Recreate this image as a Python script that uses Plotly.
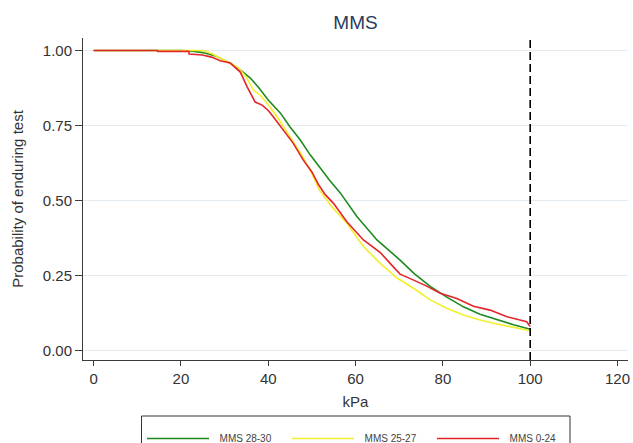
import plotly.graph_objects as go

# ---- data ----
series_names = ["MMS 28-30", "MMS 25-27", "MMS 0-24"]

kpa_green = [0, 20, 23, 25, 27.9, 31.3, 33.6, 35.9, 37.7, 40.0, 42.8, 45.0, 47.3, 49.6, 51.7,
             54.0, 56.5, 60.3, 64.9, 70.2, 73.5, 77.1, 80.8, 84.7, 88.5, 92.4, 96.2, 100]
surv_green = [1.0, 1.0, 0.997, 0.993, 0.982, 0.958, 0.935, 0.908, 0.878, 0.835, 0.791, 0.745, 0.702,
              0.652, 0.612, 0.568, 0.525, 0.446, 0.368, 0.301, 0.255, 0.213, 0.178, 0.145, 0.120,
              0.101, 0.085, 0.070]

kpa_yellow = [0, 25.1, 27.0, 29.0, 31.0, 32.9, 34.8, 36.6, 38.2, 39.7, 42.0, 44.5, 47.3, 49.6,
              51.7, 54.5, 58.0, 61.8, 65.6, 69.5, 73.3, 77.1, 80.9, 84.7, 88.5, 92.4, 96.2, 100]
surv_yellow = [1.0, 1.0, 0.99, 0.975, 0.962, 0.945, 0.915, 0.868, 0.85, 0.825, 0.78, 0.725, 0.66,
               0.601, 0.535, 0.48, 0.424, 0.346, 0.291, 0.241, 0.207, 0.168, 0.140, 0.118, 0.101,
               0.088, 0.077, 0.065]

kpa_red = [0, 14.6, 14.7, 21.8, 21.9, 24.9, 27.0, 29.0, 31.3, 33.6, 35.2, 37.0, 38.6, 40.0, 41.2,
           43.4, 45.7, 48.0, 50.0, 51.5, 53.0, 54.9, 58.0, 61.8, 65.6, 68.6, 70.2, 73.3, 76.3,
           79.4, 83.2, 87.0, 90.8, 94.7, 99.2, 100]
surv_red = [1.0, 1.0, 0.997, 0.997, 0.988, 0.985, 0.978, 0.966, 0.958, 0.928, 0.878, 0.828, 0.818,
            0.800, 0.778, 0.735, 0.691, 0.635, 0.595, 0.553, 0.520, 0.491, 0.429, 0.368, 0.327,
            0.279, 0.254, 0.234, 0.214, 0.190, 0.173, 0.147, 0.134, 0.112, 0.095, 0.079]

x_ticks = [0, 20, 40, 60, 80, 100, 120]
y_ticks = [0.0, 0.25, 0.50, 0.75, 1.00]
cutoff_kpa = 100

colors = ["#1f8a1f", "#f3ef2c", "#e3242b"]
FONT = "Liberation Sans, Arial, sans-serif"

fig = go.Figure()
for name, xs, ys, c in zip(series_names,
                           [kpa_green, kpa_yellow, kpa_red],
                           [surv_green, surv_yellow, surv_red],
                           colors):
    fig.add_trace(go.Scatter(x=xs, y=ys, mode="lines", name="\u00a0\u00a0" + name,
                             line=dict(color=c, width=1.6)))

# vertical dashed reference line
fig.add_shape(type="line", x0=cutoff_kpa, x1=cutoff_kpa, xref="x", y0=0, y1=1, yref="paper",
              line=dict(color="black", width=1.6, dash="8px,4px"))

# legend box (Stata-style, taller than the entries)
fig.add_shape(type="rect", xref="paper", yref="paper",
              x0=(141.5 - 83) / 545, x1=(570 - 83) / 545,
              y0=(360 - 416) / 322, y1=(360 - 470) / 322,
              line=dict(color="#333333", width=1), fillcolor="rgba(0,0,0,0)", layer="below")

fig.update_layout(
    width=633, height=443,
    margin=dict(l=83, r=5, t=38, b=83, autoexpand=False),
    paper_bgcolor="white", plot_bgcolor="white",
    font=dict(family=FONT, color="#222222"),
    title=dict(text="MMS", x=0.5, xref="paper", xanchor="center", y=1 - 22 / 443, yanchor="middle",
               font=dict(size=19, color="#2a3b5e", family=FONT)),
    showlegend=True,
    legend=dict(orientation="h", x=(142 - 83) / 545, xanchor="left",
                y=(360 - 424) / 322, yanchor="top",
                font=dict(size=10, color="#444444", family=FONT),
                itemwidth=62, entrywidth=68, entrywidthmode="pixels",
                bgcolor="rgba(0,0,0,0)", borderwidth=0),
    xaxis=dict(range=[-2.43, 122.4], tickvals=x_ticks, ticks="outside", ticklen=5,
               tickcolor="#3c3c3c", showline=True, linecolor="#3c3c3c", linewidth=1,
               showgrid=False, zeroline=False, tickfont=dict(size=15, color="#333333"),
               title=dict(text="kPa", font=dict(size=15, color="#333333"), standoff=10)),
    yaxis=dict(range=[-0.0324, 1.0417], tickvals=y_ticks, tickformat=".2f", ticks="outside",
               ticklen=7, tickcolor="#3c3c3c", showline=True, linecolor="#3c3c3c", linewidth=1,
               showgrid=True, gridcolor="#e4ebf0", gridwidth=1, zeroline=False,
               tickfont=dict(size=15, color="#333333"),
               title=dict(text="Probability of enduring test", font=dict(size=15, color="#333333"),
                          standoff=15)),
)

fig.write_html("out.html")
